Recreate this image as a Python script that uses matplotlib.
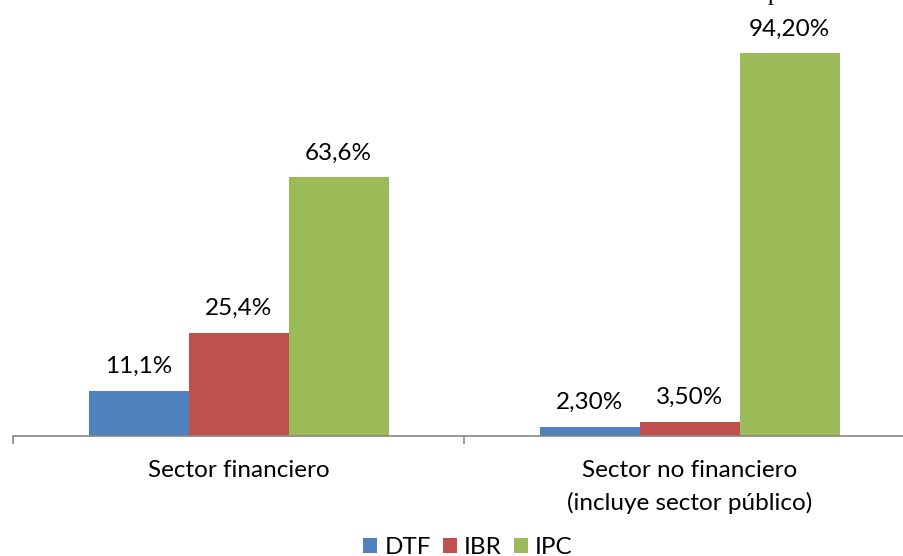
import matplotlib
matplotlib.use("Agg")
import matplotlib.pyplot as plt
from matplotlib.patches import Patch

categories = ["Sector financiero", "Sector no financiero\n(incluye sector público)"]
series = ["DTF", "IBR", "IPC"]
dtf = [11.1, 2.30]
ibr = [25.4, 3.50]
ipc = [63.6, 94.20]
dtf_labels = ["11,1%", "2,30%"]
ibr_labels = ["25,4%", "3,50%"]
ipc_labels = ["63,6%", "94,20%"]

colors = ["#4F81BD", "#C0504D", "#9BBB59"]
FONT = "Lato"
FS = 17.5

W, H = 904, 556
fig = plt.figure(figsize=(W / 100, H / 100), dpi=100)
plt.rcParams['font.family'] = [FONT, 'DejaVu Sans']

ax = fig.add_axes([13 / W, 120 / H, 902 / W, 406.6 / H])
ax.set_xlim(0, 2)
ax.set_ylim(0, 100)

bw = 100 / 451
centers = [0.5, 1.5]
all_vals = [dtf, ibr, ipc]
all_labels = [dtf_labels, ibr_labels, ipc_labels]
for i, (vals, labs) in enumerate(zip(all_vals, all_labels)):
    xs = [c + (i - 1) * bw for c in centers]
    ax.bar(xs, vals, width=bw, color=colors[i], label=series[i], zorder=2)
    for x, v, t in zip(xs, vals, labs):
        ax.annotate(t, (x, v), xytext=(0, 17.3), textcoords="offset points",
                    ha="center", va="center", fontsize=FS, color="black")

for s in ["top", "left", "right"]:
    ax.spines[s].set_visible(False)
ax.spines["bottom"].set_color("#868686")
ax.spines["bottom"].set_linewidth(1.2)
ax.spines["bottom"].set_zorder(3)
ax.set_yticks([])
ax.set_xticks([0, 1, 2])
ax.set_xticklabels(["", "", ""])
ax.tick_params(axis="x", which="major", length=6, width=1.2, color="#868686", direction="out")
ax.set_xticks(centers, minor=True)
ax.set_xticklabels(categories, minor=True, fontsize=FS, linespacing=1.6)
ax.tick_params(axis="x", which="minor", length=0, pad=17)

handles = [Patch(facecolor=c, edgecolor="none") for c in colors]
fig.legend(handles, series, loc="center", bbox_to_anchor=(468 / W, 8 / H), ncol=3,
           frameon=False, fontsize=FS, handlelength=0.57, handleheight=0.57,
           handletextpad=0.3, columnspacing=0.5, borderpad=0, borderaxespad=0)

fig.text(768 / W, 1.0, "p", fontsize=FS, family="Liberation Serif", ha="left", va="baseline")

fig.savefig("out.png", dpi=100)
